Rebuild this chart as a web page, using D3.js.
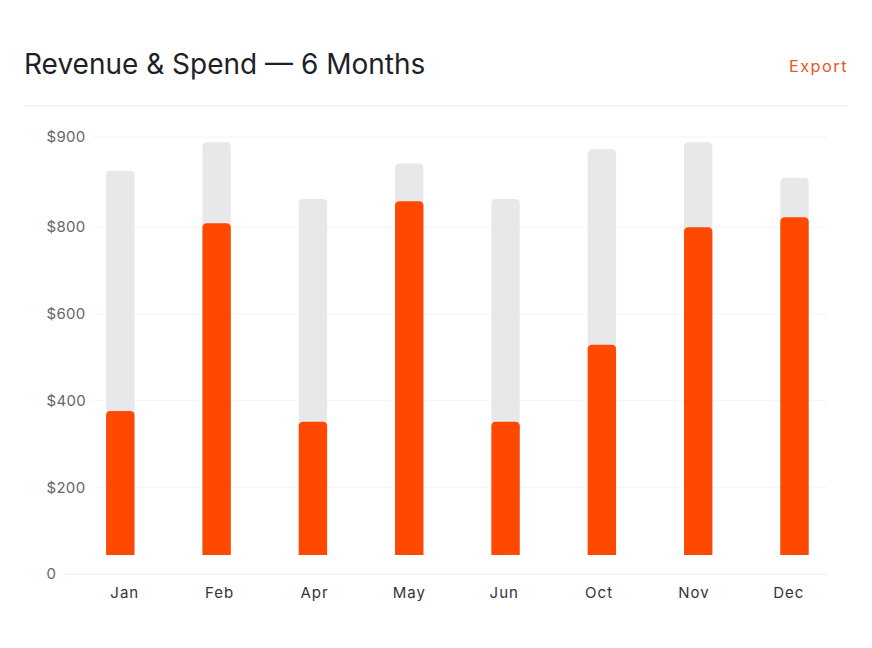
<!DOCTYPE html>
<html>
<head>
<meta charset="utf-8">
<script src="https://cdn.jsdelivr.net/npm/d3@7"></script>
<style>
  html, body { margin: 0; padding: 0; background: #ffffff; }
  svg { display: block; font-family: Inter, "Noto Sans", sans-serif; }
</style>
</head>
<body>
<svg id="chart" width="872" height="648"></svg>
<script>
// ---- data ----
const months = ["Jan", "Feb", "Apr", "May", "Jun", "Oct", "Nov", "Dec"];
const revenue = [930, 996, 865, 947, 865, 980, 996, 914];
const spend = [376, 809, 351, 860, 351, 529, 800, 823];
const yTickValues = [0, 200, 400, 600, 800, 1008];
const yTickLabels = ["0", "$200", "$400", "$600", "$800", "$900"];
const titleText = "Revenue & Spend \u2014 6 Months";
const actionText = "Export";

// ---- layout ----
const W = 872, H = 648;
const svg = d3.select("#chart");

const y = d3.scaleLinear().domain([0, 1000]).range([574, 140.5]);
const xBar = d3.scalePoint().domain(months).range([120.3, 794.5]);
const xLabel = d3.scalePoint().domain(months).range([124.8, 788.8]);
const barW = 28.4;
const barGap = 19;
const radius = 4.5;
const gridX0 = 63, gridX1 = 827;

// header
svg.append("text")
  .attr("x", 24).attr("y", 73.5)
  .attr("font-size", 28)
  .attr("fill", "#1e1f28")
  .text(titleText);

svg.append("text")
  .attr("x", 848).attr("y", 72)
  .attr("text-anchor", "end")
  .attr("font-size", 16.3)
  .attr("letter-spacing", 1.5)
  .attr("fill", "#e8571f")
  .text(actionText);

svg.append("line")
  .attr("x1", 24).attr("x2", 848)
  .attr("y1", 106).attr("y2", 106)
  .attr("stroke", "#efeff1").attr("stroke-width", 1.5);

// gridlines
svg.append("g").selectAll("line")
  .data(yTickValues)
  .join("line")
  .attr("x1", gridX0).attr("x2", gridX1)
  .attr("y1", d => y(d)).attr("y2", d => y(d))
  .attr("stroke", d => d === 0 ? "#ececee" : "#f4f4f5")
  .attr("stroke-width", 1);

// y labels with white halo
svg.append("g").selectAll("text")
  .data(yTickValues)
  .join("text")
  .attr("x", 46.5)
  .attr("y", d => y(d))
  .attr("dy", "0.35em")
  .attr("font-size", 15)
  .attr("letter-spacing", 0.3)
  .attr("fill", "#66666c")
  .attr("stroke", "#ffffff")
  .attr("stroke-width", 16)
  .attr("stroke-linejoin", "round")
  .attr("paint-order", "stroke")
  .text((d, i) => yTickLabels[i]);

// bar path with rounded top corners
function topRounded(x, yTop, w, yBottom, r) {
  const h = yBottom - yTop;
  const rr = Math.min(r, h, w / 2);
  return `M${x},${yBottom}V${yTop + rr}Q${x},${yTop} ${x + rr},${yTop}H${x + w - rr}Q${x + w},${yTop} ${x + w},${yTop + rr}V${yBottom}Z`;
}

const base = y(0) - barGap;

svg.append("g").selectAll("path")
  .data(months)
  .join("path")
  .attr("d", (m, i) => topRounded(xBar(m) - barW / 2, y(revenue[i]), barW, base, radius))
  .attr("fill", "#e8e8ea");

svg.append("g").selectAll("path")
  .data(months)
  .join("path")
  .attr("d", (m, i) => topRounded(xBar(m) - barW / 2, y(spend[i]), barW, base, radius))
  .attr("fill", "#ff4800");

// x labels
svg.append("g").selectAll("text")
  .data(months)
  .join("text")
  .attr("x", d => xLabel(d))
  .attr("y", 593)
  .attr("dy", "0.35em")
  .attr("text-anchor", "middle")
  .attr("font-size", 15)
  .attr("letter-spacing", 1)
  .attr("fill", "#33343a")
  .text(d => d);
</script>
</body>
</html>
